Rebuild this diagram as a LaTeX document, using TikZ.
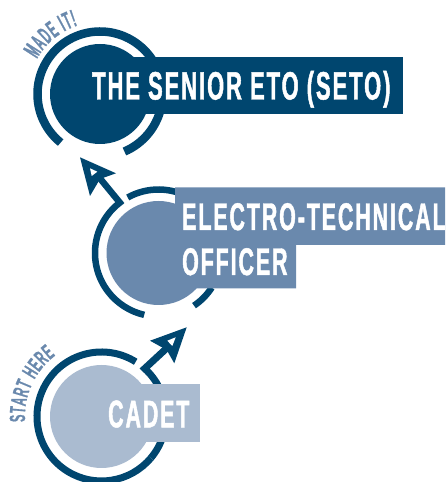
\documentclass[tikz,border=0pt]{standalone}
\usepackage{fontspec}
\usetikzlibrary{decorations.text,calc}
\newfontfamily\bigcond[FakeStretch=0.555,FakeBold=1.2,LetterSpace=5]{Liberation Sans Bold}
\newfontface\madeface[Scale=2.45,FakeStretch=0.44,FakeBold=0.8]{Liberation Sans Bold}
\newfontface\startface[Scale=2.2,FakeStretch=0.5,FakeBold=0.8,LetterSpace=2]{Liberation Sans Bold}
\definecolor{navy}{HTML}{00466F}
\definecolor{midblue}{HTML}{6A89AD}
\definecolor{paleblue}{HTML}{AABBD0}
\tikzset{
  x=1pt,y=1pt,
  ringline/.style={draw=navy,line width=#1,line join=miter,miter limit=10},
  disc/.style={circle,inner sep=0pt,minimum size=#1},
  heading/.style={anchor=base west,inner sep=0pt,text=white},
  arrowhole/.style={fill=white},
  arrowsolid/.style={fill=navy}
}
\begin{document}
\begin{tikzpicture}
\useasboundingbox (0,0) rectangle (445,482);
\clip (0,0) rectangle (445,482);
\coordinate (top) at (100,388);
\coordinate (mid) at (158.5,229);
\coordinate (low) at (101.5,65.5);
% rings
\draw[ringline=8.5pt] (top) ++(231:62.5) arc[start angle=231,end angle=-67,radius=62.5];
\draw[ringline=6.5pt] (mid) ++(119:63.5) arc[start angle=119,end angle=60,radius=63.5];
\draw[ringline=6.5pt] (mid) ++(-56:63.5) arc[start angle=-56,end angle=-33,radius=63.5];
\draw[ringline=7pt] (low) ++(58:64.5) arc[start angle=58,end angle=320,radius=64.5];
% arrows
\coordinate (headA) at (98,306);
\coordinate (headB) at (168,135);
\draw[ringline=6.5pt] (headA) -- ($(mid)+(127.5:63.5)$) arc[start angle=127.5,end angle=257,radius=63.5];
\draw[ringline=7pt] (headB) -- ($(low)+(48:64.5)$) arc[start angle=48,end angle=-40,radius=64.5];
\fill[arrowsolid] (80,324.7) -- (116,308.7) -- (100,303) -- (90,286) -- cycle;
\fill[arrowhole] (90,313.7) -- (97.3,310.3) -- (91.7,306) -- cycle;
\fill[arrowsolid] (186.7,154.7) -- (150,141.3) -- (166.7,132) -- (174.3,118.7) -- cycle;
\fill[arrowhole] (167.3,141.3) -- (175.7,144.7) -- (172.3,136) -- cycle;
% discs and banners
\node[disc=100pt,fill=navy] (discTop) at (top) {};
\node[disc=104pt,fill=midblue] (discMid) at (mid) {};
\node[disc=103pt,fill=paleblue] (discLow) at (low) {};
\fill[navy] (100,425) rectangle (403,368);
\fill[midblue] (175,294.7) -- (445,294.7) -- (445,237) -- (296,237) -- (296,193.7) -- (175,193.7) -- cycle;
\fill[paleblue] (140,98) rectangle (200,40.3);
% texts
\node[heading,font=\bigcond\fontsize{39.5}{40}\selectfont] (seto) at (92,382.5) {THE SENIOR ETO (SETO)};
\node[heading,font=\bigcond\fontsize{38.5}{38}\selectfont] (eto1) at (182,252) {ELECTRO-TECHNICAL};
\node[heading,font=\bigcond\fontsize{38.5}{38}\selectfont] (eto2) at (182,207) {OFFICER};
\node[heading,font=\bigcond\fontsize{38.5}{38}\selectfont] (cadet) at (108,54.7) {CADET};
% curved labels
\path[decorate,decoration={text along path,text align={fit to path},
  text={|\madeface\color{midblue}|MADE IT!}}]
  (top) ++(151:72) arc[start angle=151,end angle=108,radius=72];
\path[decorate,decoration={text along path,text align={fit to path},
  text={|\startface\color{midblue}|START HERE}}]
  (low) ++(184:76.5) arc[start angle=184,end angle=127,radius=76.5];
\end{tikzpicture}
\end{document}
